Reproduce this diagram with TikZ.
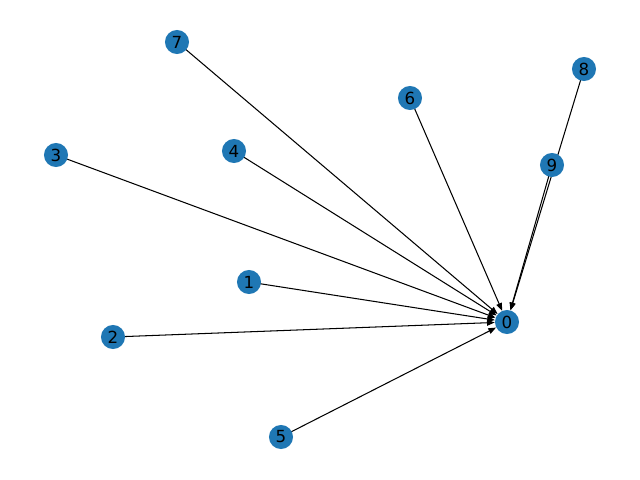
\documentclass[tikz,border=0pt]{standalone}
\usepackage{fontspec}
\setmainfont{DejaVu Sans}
\usetikzlibrary{arrows.meta,backgrounds}
\definecolor{tabblue}{HTML}{1F77B4}
\begin{document}
\begin{tikzpicture}[x=0.72pt,y=-0.72pt,
  vtx/.style={circle,fill=tabblue,draw=none,minimum size=17.3pt,inner sep=0pt,font=\fontsize{12pt}{14pt}\selectfont},
  edge/.style={draw=black,line width=0.75pt,-{Stealth[length=5.5pt,width=4.2pt,inset=0pt]}}]
\useasboundingbox (0,0) rectangle (640,480);
\node[vtx] (n0) at (507,322) {0};
\node[vtx] (n1) at (249,282) {1};
\node[vtx] (n2) at (113,337) {2};
\node[vtx] (n3) at (56,155) {3};
\node[vtx] (n4) at (234,151) {4};
\node[vtx] (n5) at (281,437) {5};
\node[vtx] (n6) at (410,98) {6};
\node[vtx] (n7) at (177,42) {7};
\node[vtx] (n8) at (584,69) {8};
\node[vtx] (n9) at (552,165) {9};
\begin{scope}[on background layer]
\foreach \i in {1,...,9} {
  \path[edge] (n\i.center) -- (n0);
}
\end{scope}
\end{tikzpicture}
\end{document}
